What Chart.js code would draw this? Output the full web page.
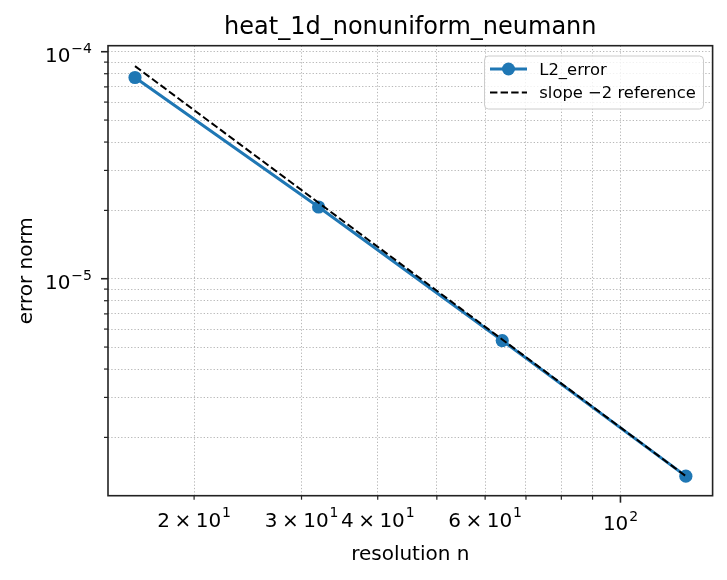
<!DOCTYPE html>
<html>
<head>
<meta charset="utf-8">
<script src="https://cdn.jsdelivr.net/npm/chart.js@4.4.1/dist/chart.umd.min.js"></script>
<style>
  html, body { margin: 0; padding: 0; background: #fff; }
  #wrap { width: 727px; height: 580px; position: relative; }
</style>
</head>
<body>
<div id="wrap"><canvas id="convChart"></canvas></div>
<script>
// convergence data
const resolutions = [16, 32, 64, 128];
const l2Error = [7.7e-5, 2.07e-5, 5.34e-6, 1.35e-6];
const slopeRef = [8.64e-5, 2.16e-5, 5.4e-6, 1.35e-6];

// ticks
const xMajorTicks = [100];
const xMinorTicks = [20, 30, 40, 50, 60, 70, 80, 90];
const xLabelValues = [20, 30, 40, 60, 100];
const xLabelTexts = ['2×10^1', '3×10^1', '4×10^1', '6×10^1', '10^2'];

const yMajorTicks = [1e-5, 1e-4];
const yMinorTicks = [2e-6, 3e-6, 4e-6, 5e-6, 6e-6, 7e-6, 8e-6, 9e-6,
                     2e-5, 3e-5, 4e-5, 5e-5, 6e-5, 7e-5, 8e-5, 9e-5];
const yLabelValues = [1e-5, 1e-4];
const yLabelTexts = ['10^\u22125', '10^\u22124'];

const FONT = "'DejaVu Sans', sans-serif";
const BLUE = '#1f77b4';

// "2×10^1" -> pieces with a raised exponent
function labelParts(text) {
    const [base, exp] = text.split('^');
    const parts = [];
    if (base.includes('×')) {
        const [m, ten] = base.split('×');
        parts.push({ t: m }, { t: '×', gap: 4.5 }, { t: ten, gap: 4.5 });
    } else {
        parts.push({ t: base });
    }
    parts.push({ t: exp, sup: true, gap: 0.8 });
    return parts;
}

function drawLabel(ctx, text, x, y, align) {
    const parts = labelParts(text);
    let w = 0;
    parts.forEach((p) => {
        ctx.font = (p.sup ? '14px ' : '20px ') + FONT;
        p.w = ctx.measureText(p.t).width;
        w += (p.gap || 0) + p.w;
    });
    let cx = align === 'right' ? x - w : x - w / 2;
    parts.forEach((p) => {
        cx += p.gap || 0;
        ctx.font = (p.sup ? '14px ' : '20px ') + FONT;
        ctx.fillText(p.t, cx, p.sup ? y - 9.5 : y);
        cx += p.w;
    });
}

const axesDecor = {
    id: 'axesDecor',
    afterDraw(chart) {
        const { ctx, chartArea: a, scales } = chart;
        const xs = scales.x, ys = scales.y;
        ctx.save();

        // frame
        ctx.strokeStyle = '#222';
        ctx.lineWidth = 1.6;
        ctx.strokeRect(a.left, a.top, a.right - a.left, a.bottom - a.top);

        // tick marks
        const tick = (x1, y1, x2, y2, w) => {
            ctx.lineWidth = w;
            ctx.beginPath();
            ctx.moveTo(x1, y1);
            ctx.lineTo(x2, y2);
            ctx.stroke();
        };
        xMajorTicks.forEach((v) => { const p = xs.getPixelForValue(v); tick(p, a.bottom, p, a.bottom + 7, 1.6); });
        xMinorTicks.forEach((v) => { const p = xs.getPixelForValue(v); tick(p, a.bottom, p, a.bottom + 4, 1.2); });
        yMajorTicks.forEach((v) => { const p = ys.getPixelForValue(v); tick(a.left, p, a.left - 7, p, 1.6); });
        yMinorTicks.forEach((v) => { const p = ys.getPixelForValue(v); tick(a.left, p, a.left - 4, p, 1.2); });

        // tick labels
        ctx.fillStyle = '#000';
        ctx.textAlign = 'left';
        ctx.textBaseline = 'alphabetic';
        xLabelValues.forEach((v, i) => {
            const p = xs.getPixelForValue(v);
            const yb = xLabelTexts[i].includes('×') ? 526.5 : 530;
            drawLabel(ctx, xLabelTexts[i], p, yb, 'center');
        });
        yLabelValues.forEach((v, i) => {
            const p = ys.getPixelForValue(v);
            drawLabel(ctx, yLabelTexts[i], a.left - 16, p + 10.6, 'right');
        });

        // title and axis titles
        ctx.textAlign = 'center';
        ctx.font = '24px ' + FONT;
        ctx.fillText('heat_1d_nonuniform_neumann', (a.left + a.right) / 2, 33.5);
        ctx.font = '20px ' + FONT;
        ctx.fillText('resolution n', (a.left + a.right) / 2, 560);
        ctx.save();
        ctx.translate(31.7, (a.top + a.bottom) / 2);
        ctx.rotate(-Math.PI / 2);
        ctx.fillText('error norm', 0, 0);
        ctx.restore();

        // legend
        const bx = 484.5, by = 56, bw = 219, bh = 53;
        ctx.fillStyle = 'rgba(255,255,255,0.8)';
        ctx.strokeStyle = '#cccccc';
        ctx.lineWidth = 1;
        ctx.beginPath();
        ctx.roundRect(bx, by, bw, bh, 4);
        ctx.fill();
        ctx.stroke();

        ctx.strokeStyle = BLUE;
        ctx.lineWidth = 3;
        ctx.beginPath();
        ctx.moveTo(490, 69);
        ctx.lineTo(527, 69);
        ctx.stroke();
        ctx.fillStyle = BLUE;
        ctx.beginPath();
        ctx.arc(508.5, 69, 6.5, 0, Math.PI * 2);
        ctx.fill();

        ctx.strokeStyle = '#000';
        ctx.lineWidth = 2;
        ctx.setLineDash([7.4, 3.2]);
        ctx.beginPath();
        ctx.moveTo(490, 92.5);
        ctx.lineTo(527, 92.5);
        ctx.stroke();
        ctx.setLineDash([]);

        ctx.fillStyle = '#000';
        ctx.textAlign = 'left';
        ctx.font = '16.4px ' + FONT;
        ctx.fillText('L2_error', 539.3, 74.8);
        ctx.fillText('slope \u22122 reference', 539.3, 98.3);

        ctx.restore();
    }
};

const gridOpts = { color: '#b0b0b0', lineWidth: 0.9, drawTicks: false };

new Chart(document.getElementById('convChart'), {
    type: 'line',
    data: {
        datasets: [
            {
                label: 'slope \u22122 reference',
                data: resolutions.map((n, i) => ({ x: n, y: slopeRef[i] })),
                borderColor: '#000',
                borderWidth: 2,
                borderDash: [7.4, 3.2],
                pointRadius: 0,
                fill: false,
                order: 0
            },
            {
                label: 'L2_error',
                data: resolutions.map((n, i) => ({ x: n, y: l2Error[i] })),
                borderColor: BLUE,
                backgroundColor: BLUE,
                borderWidth: 3,
                pointRadius: 6.6,
                pointHoverRadius: 6.6,
                pointBorderWidth: 0,
                pointBackgroundColor: BLUE,
                fill: false,
                order: 1
            }
        ]
    },
    options: {
        responsive: true,
        maintainAspectRatio: false,
        animation: false,
        events: [],
        layout: { padding: { left: 108, top: 45.7, right: 14.4, bottom: 84.3 } },
        plugins: {
            legend: { display: false },
            tooltip: { enabled: false },
            title: { display: false }
        },
        scales: {
            x: {
                type: 'logarithmic',
                min: 14.45,
                max: 141.6,
                ticks: { display: false },
                grid: gridOpts,
                border: { display: false, dash: [1.3, 2] },
                afterBuildTicks: (s) => { s.ticks = [...xMinorTicks, ...xMajorTicks].map((v) => ({ value: v })); }
            },
            y: {
                type: 'logarithmic',
                min: 1.107e-6,
                max: 1.063e-4,
                ticks: { display: false },
                grid: gridOpts,
                border: { display: false, dash: [1.3, 2] },
                afterBuildTicks: (s) => { s.ticks = [...yMinorTicks, ...yMajorTicks].map((v) => ({ value: v })); }
            }
        }
    },
    plugins: [axesDecor]
});
</script>
</body>
</html>
